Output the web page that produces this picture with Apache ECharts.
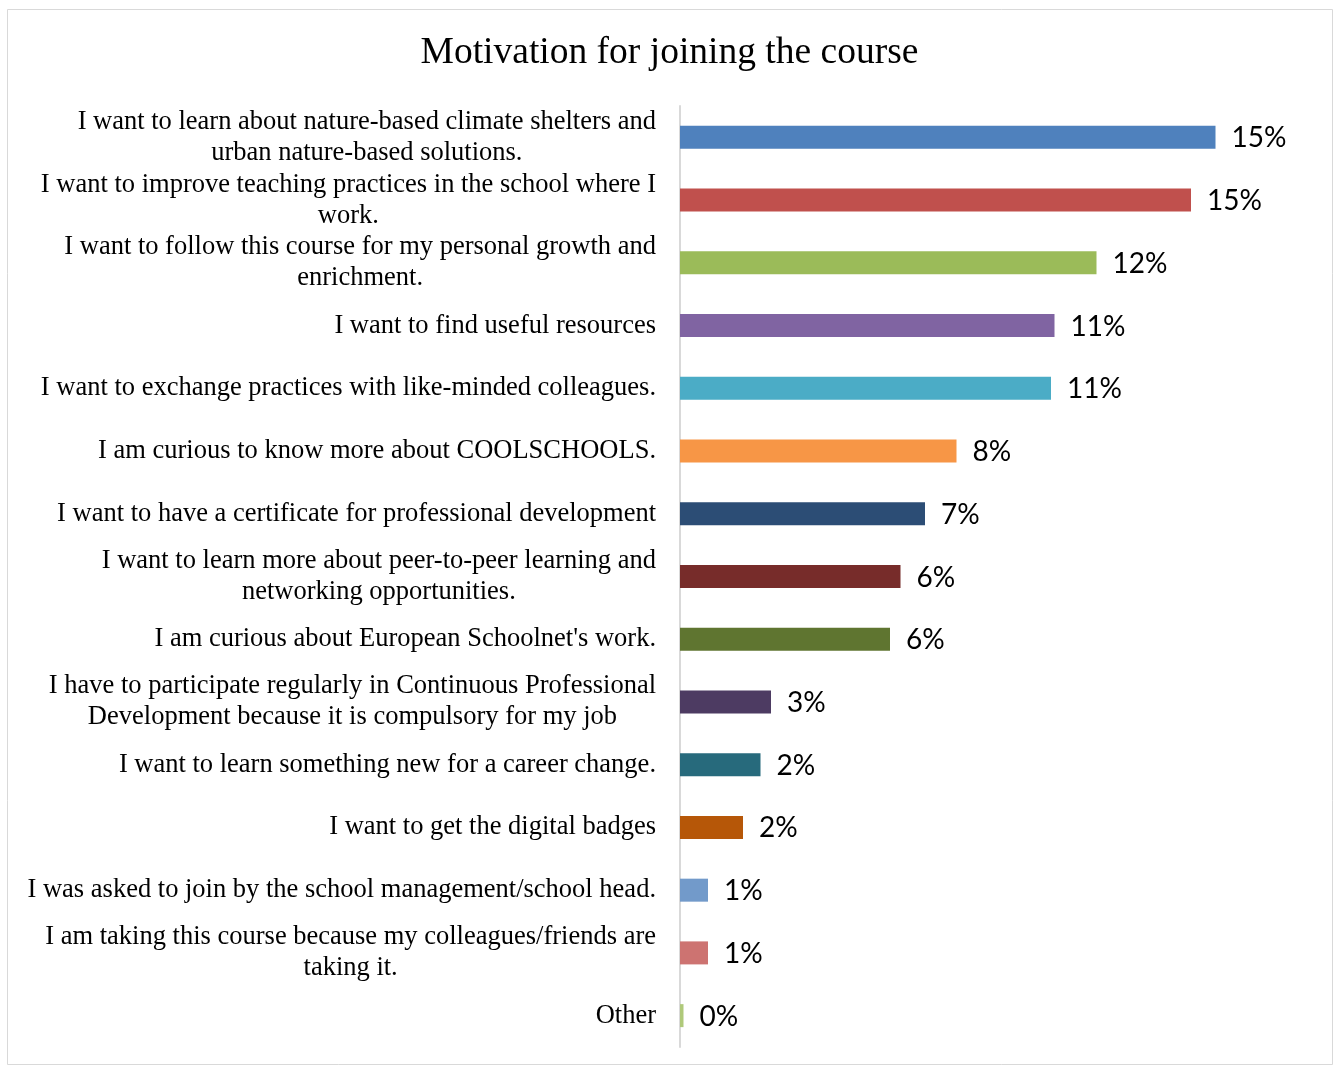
<!DOCTYPE html>
<html>
<head>
<meta charset="utf-8">
<title>Motivation for joining the course</title>
<script src="https://cdn.jsdelivr.net/npm/echarts@6/dist/echarts.min.js"></script>
<style>
  html, body { margin: 0; padding: 0; background: #ffffff; }
  #chart { width: 1339px; height: 1069px; }
</style>
</head>
<body>
<div id="chart"></div>
<script>
// Survey answers, top to bottom
const categories = [
  'I want to learn about nature-based climate shelters and\nurban nature-based solutions.',
  'I want to improve teaching practices in the school where I\nwork.',
  'I want to follow this course for my personal growth and\nenrichment.',
  'I want to find useful resources',
  'I want to exchange practices with like-minded colleagues.',
  'I am curious to know more about COOLSCHOOLS.',
  'I want to have a certificate for professional development',
  'I want to learn more about peer-to-peer learning and\nnetworking opportunities.',
  "I am curious about European Schoolnet's work.",
  'I have to participate regularly in Continuous Professional\nDevelopment because it is compulsory for my job',
  'I want to learn something new for a career change.',
  'I want to get the digital badges',
  'I was asked to join by the school management/school head.',
  'I am taking this course because my colleagues/friends are\ntaking it.',
  'Other'
];

// Share of responses (%)
const shares = [15.3, 14.6, 11.9, 10.7, 10.6, 7.9, 7.0, 6.3, 6.0, 2.6, 2.3, 1.8, 0.8, 0.8, 0.1];

// One colour per answer
const barColors = [
  '#4F81BD', '#C0504D', '#9BBB59', '#8064A2', '#4BACC6',
  '#F79646', '#2C4D75', '#772C2A', '#5F7530', '#4D3B62',
  '#276A7C', '#B65708', '#729ACA', '#CD7371', '#AFC97A'
];

const chart = echarts.init(document.getElementById('chart'), null, { renderer: 'canvas' });

chart.setOption({
  backgroundColor: '#ffffff',
  animation: false,
  title: {
    text: 'Motivation for joining the course',
    left: 'center',
    top: 29,
    textStyle: {
      fontFamily: 'Liberation Serif',
      fontSize: 37.5,
      fontWeight: 'normal',
      color: '#000000'
    }
  },
  graphic: [{
    type: 'rect',
    silent: true,
    shape: { x: 7.5, y: 9.5, width: 1325, height: 1055 },
    style: { fill: 'none', stroke: '#d9d9d9', lineWidth: 1 }
  }],
  grid: {
    left: 680,
    top: 106,
    width: 630,
    height: 941,
    containLabel: false
  },
  xAxis: {
    type: 'value',
    min: 0,
    max: 18,
    show: false,
    splitLine: { show: false }
  },
  yAxis: {
    type: 'category',
    inverse: true,
    data: categories,
    axisLine: { show: true, lineStyle: { color: '#d9d9d9', width: 2 } },
    axisTick: { show: false },
    splitLine: { show: false },
    axisLabel: {
      margin: 24,
      formatter: function (v) { return '{c|' + v + '}'; },
      rich: {
        c: {
          align: 'center',
          fontFamily: 'Liberation Serif',
          fontSize: 26.5,
          lineHeight: 31,
          color: '#000000'
        }
      }
    }
  },
  series: [{
    type: 'bar',
    barWidth: 23,
    data: shares.map(function (v, i) {
      return { value: v, itemStyle: { color: barColors[i] } };
    }),
    label: {
      show: true,
      position: 'right',
      distance: 16,
      offset: [0, 1],
      fontFamily: 'Lato',
      fontSize: 28,
      color: '#000000',
      formatter: function (p) { return Math.round(p.value) + '%'; }
    }
  }]
});
</script>
</body>
</html>
